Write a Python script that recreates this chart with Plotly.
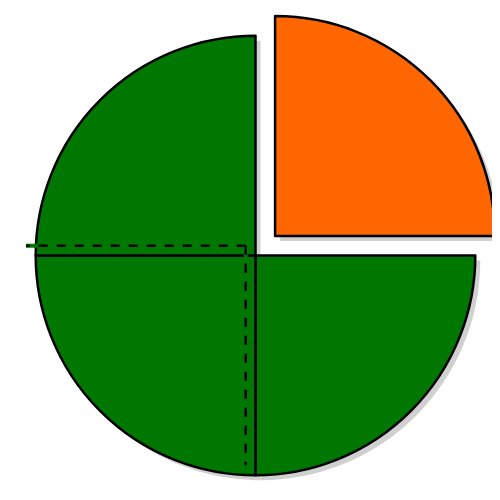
import plotly.graph_objects as go

labels = ["A", "B", "C", "D"]
values = [25, 25, 25, 25]
colors = ["#FF6600", "#007700", "#007700", "#007700"]
pulls = [0.126, 0, 0, 0]

W = 500.0
dom_x = [0.0, 0.99]
dom_y = [0.01, 1.0]
fig = go.Figure()
fig.add_trace(go.Pie(labels=labels, values=values, sort=False, direction="clockwise",
                     pull=pulls, domain=dict(x=[0.01, 1.0], y=[0.0, 0.99]),
                     marker=dict(colors=["#cccccc"] * 4, line=dict(width=0)),
                     textinfo="none", hoverinfo="skip", showlegend=False, opacity=0.9))
fig.add_trace(go.Pie(labels=labels, values=values, sort=False, direction="clockwise",
                     pull=pulls, domain=dict(x=dom_x, y=dom_y),
                     marker=dict(colors=colors, line=dict(color="black", width=2.5)),
                     textinfo="none", showlegend=False))
size = (dom_x[1] - dom_x[0])
r = size * 213.0 / 480.0
off = r * max(pulls) / 2 ** 0.5 / 2
cx = sum(dom_x) / 2 - off
cy = sum(dom_y) / 2 + off
for (x1, y1) in [(cx - r, cy), (cx, cy - r)]:
    fig.add_shape(type="line", xref="paper", yref="paper", x0=cx, y0=cy, x1=x1, y1=y1,
                  line=dict(color="#007700", width=4))
    fig.add_shape(type="line", xref="paper", yref="paper", x0=cx, y0=cy, x1=x1, y1=y1,
                  line=dict(color="black", width=2.5, dash="dash"))
fig.update_layout(width=500, height=500, margin=dict(l=0, r=0, t=0, b=0),
                  paper_bgcolor="white", plot_bgcolor="white")
fig.write_html("out.html")
